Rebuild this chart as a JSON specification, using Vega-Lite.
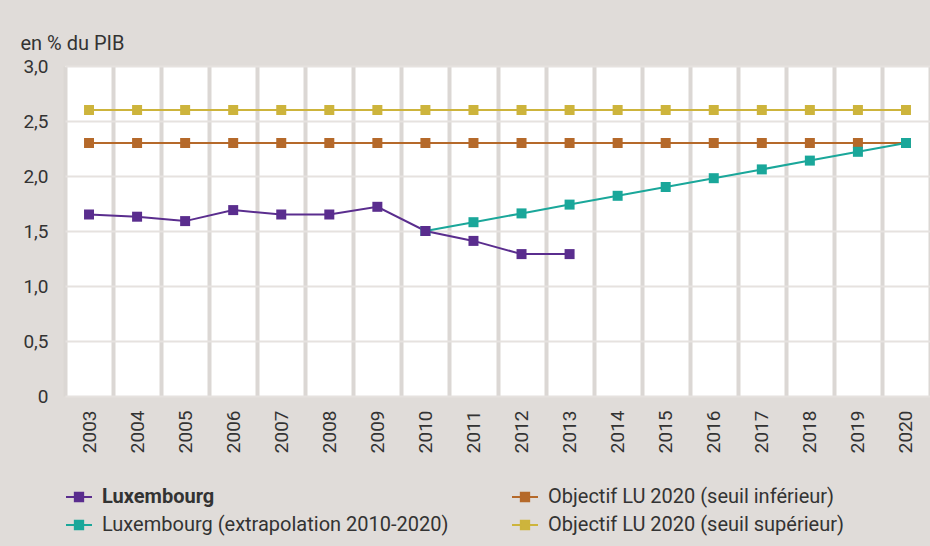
{
  "$schema": "https://vega.github.io/schema/vega-lite/v6.json",
  "width": 865,
  "height": 330,
  "autosize": {"type": "none"},
  "padding": {"left": 65, "top": 66, "right": 0, "bottom": 150},
  "background": "#e0dcd9",
  "config": {"view": {"fill": "#ffffff", "stroke": null}, "font": "Roboto"},
  "data": {
    "values": [
      {"year": "2003", "value": 2.6, "series": "Objectif LU 2020 (seuil supérieur)"},
      {"year": "2004", "value": 2.6, "series": "Objectif LU 2020 (seuil supérieur)"},
      {"year": "2005", "value": 2.6, "series": "Objectif LU 2020 (seuil supérieur)"},
      {"year": "2006", "value": 2.6, "series": "Objectif LU 2020 (seuil supérieur)"},
      {"year": "2007", "value": 2.6, "series": "Objectif LU 2020 (seuil supérieur)"},
      {"year": "2008", "value": 2.6, "series": "Objectif LU 2020 (seuil supérieur)"},
      {"year": "2009", "value": 2.6, "series": "Objectif LU 2020 (seuil supérieur)"},
      {"year": "2010", "value": 2.6, "series": "Objectif LU 2020 (seuil supérieur)"},
      {"year": "2011", "value": 2.6, "series": "Objectif LU 2020 (seuil supérieur)"},
      {"year": "2012", "value": 2.6, "series": "Objectif LU 2020 (seuil supérieur)"},
      {"year": "2013", "value": 2.6, "series": "Objectif LU 2020 (seuil supérieur)"},
      {"year": "2014", "value": 2.6, "series": "Objectif LU 2020 (seuil supérieur)"},
      {"year": "2015", "value": 2.6, "series": "Objectif LU 2020 (seuil supérieur)"},
      {"year": "2016", "value": 2.6, "series": "Objectif LU 2020 (seuil supérieur)"},
      {"year": "2017", "value": 2.6, "series": "Objectif LU 2020 (seuil supérieur)"},
      {"year": "2018", "value": 2.6, "series": "Objectif LU 2020 (seuil supérieur)"},
      {"year": "2019", "value": 2.6, "series": "Objectif LU 2020 (seuil supérieur)"},
      {"year": "2020", "value": 2.6, "series": "Objectif LU 2020 (seuil supérieur)"},
      {"year": "2003", "value": 2.3, "series": "Objectif LU 2020 (seuil inférieur)"},
      {"year": "2004", "value": 2.3, "series": "Objectif LU 2020 (seuil inférieur)"},
      {"year": "2005", "value": 2.3, "series": "Objectif LU 2020 (seuil inférieur)"},
      {"year": "2006", "value": 2.3, "series": "Objectif LU 2020 (seuil inférieur)"},
      {"year": "2007", "value": 2.3, "series": "Objectif LU 2020 (seuil inférieur)"},
      {"year": "2008", "value": 2.3, "series": "Objectif LU 2020 (seuil inférieur)"},
      {"year": "2009", "value": 2.3, "series": "Objectif LU 2020 (seuil inférieur)"},
      {"year": "2010", "value": 2.3, "series": "Objectif LU 2020 (seuil inférieur)"},
      {"year": "2011", "value": 2.3, "series": "Objectif LU 2020 (seuil inférieur)"},
      {"year": "2012", "value": 2.3, "series": "Objectif LU 2020 (seuil inférieur)"},
      {"year": "2013", "value": 2.3, "series": "Objectif LU 2020 (seuil inférieur)"},
      {"year": "2014", "value": 2.3, "series": "Objectif LU 2020 (seuil inférieur)"},
      {"year": "2015", "value": 2.3, "series": "Objectif LU 2020 (seuil inférieur)"},
      {"year": "2016", "value": 2.3, "series": "Objectif LU 2020 (seuil inférieur)"},
      {"year": "2017", "value": 2.3, "series": "Objectif LU 2020 (seuil inférieur)"},
      {"year": "2018", "value": 2.3, "series": "Objectif LU 2020 (seuil inférieur)"},
      {"year": "2019", "value": 2.3, "series": "Objectif LU 2020 (seuil inférieur)"},
      {"year": "2020", "value": 2.3, "series": "Objectif LU 2020 (seuil inférieur)"},
      {"year": "2010", "value": 1.5, "series": "Luxembourg (extrapolation 2010-2020)"},
      {"year": "2011", "value": 1.58, "series": "Luxembourg (extrapolation 2010-2020)"},
      {"year": "2012", "value": 1.66, "series": "Luxembourg (extrapolation 2010-2020)"},
      {"year": "2013", "value": 1.74, "series": "Luxembourg (extrapolation 2010-2020)"},
      {"year": "2014", "value": 1.82, "series": "Luxembourg (extrapolation 2010-2020)"},
      {"year": "2015", "value": 1.9, "series": "Luxembourg (extrapolation 2010-2020)"},
      {"year": "2016", "value": 1.98, "series": "Luxembourg (extrapolation 2010-2020)"},
      {"year": "2017", "value": 2.06, "series": "Luxembourg (extrapolation 2010-2020)"},
      {"year": "2018", "value": 2.14, "series": "Luxembourg (extrapolation 2010-2020)"},
      {"year": "2019", "value": 2.22, "series": "Luxembourg (extrapolation 2010-2020)"},
      {"year": "2020", "value": 2.3, "series": "Luxembourg (extrapolation 2010-2020)"},
      {"year": "2003", "value": 1.65, "series": "Luxembourg"},
      {"year": "2004", "value": 1.63, "series": "Luxembourg"},
      {"year": "2005", "value": 1.59, "series": "Luxembourg"},
      {"year": "2006", "value": 1.69, "series": "Luxembourg"},
      {"year": "2007", "value": 1.65, "series": "Luxembourg"},
      {"year": "2008", "value": 1.65, "series": "Luxembourg"},
      {"year": "2009", "value": 1.72, "series": "Luxembourg"},
      {"year": "2010", "value": 1.5, "series": "Luxembourg"},
      {"year": "2011", "value": 1.41, "series": "Luxembourg"},
      {"year": "2012", "value": 1.29, "series": "Luxembourg"},
      {"year": "2013", "value": 1.29, "series": "Luxembourg"}
    ]
  },
  "mark": {
    "type": "line",
    "strokeWidth": 2,
    "point": {"shape": "square", "size": 100, "filled": true, "opacity": 1}
  },
  "encoding": {
    "x": {
      "field": "year",
      "type": "ordinal",
      "bandPosition": 0.5,
      "scale": {"type": "band", "paddingInner": 0, "paddingOuter": 0},
      "axis": {
        "title": null,
        "labelAngle": -90,
        "labelAlign": "right",
        "labelBaseline": "middle",
        "labelPadding": 14,
        "labelFontSize": 19,
        "labelColor": "#333333",
        "ticks": false,
        "domain": false,
        "grid": true,
        "tickBand": "extent",
        "gridColor": "#dbd7d4",
        "gridWidth": 4
      }
    },
    "y": {
      "field": "value",
      "type": "quantitative",
      "scale": {"domain": [0, 3], "nice": false},
      "axis": {
        "values": [0, 0.5, 1, 1.5, 2, 2.5, 3],
        "labelExpr": "datum.value == 0 ? '0' : replace(format(datum.value, '.1f'), '.', ',')",
        "title": "en % du PIB",
        "titleAngle": 0,
        "titleAlign": "left",
        "titleBaseline": "alphabetic",
        "titleX": -45,
        "titleY": -17,
        "titleFontWeight": "normal",
        "titleFontSize": 20,
        "titleColor": "#333333",
        "labelFontSize": 19,
        "labelColor": "#333333",
        "labelPadding": 17,
        "domain": false,
        "ticks": false,
        "gridColor": "#e6e2df",
        "gridWidth": 2
      }
    },
    "color": {
      "field": "series",
      "type": "nominal",
      "scale": {
        "domain": [
          "Luxembourg",
          "Luxembourg (extrapolation 2010-2020)",
          "Objectif LU 2020 (seuil inférieur)",
          "Objectif LU 2020 (seuil supérieur)"
        ],
        "range": ["#5a2d8e", "#1aa79a", "#b5692a", "#cdb43c"]
      },
      "legend": {
        "title": null,
        "orient": "none",
        "legendX": 0,
        "legendY": 417,
        "columns": 2,
        "columnPadding": 59,
        "rowPadding": 4,
        "padding": 0,
        "labelFontSize": 20,
        "labelColor": "#333333",
        "labelOffset": 9,
        "labelLimit": 500,
        "symbolType": "M-1,0H1M-0.32,-0.32H0.32V0.32H-0.32Z",
        "symbolSize": 676,
        "symbolStrokeWidth": 2,
        "encode": {
          "labels": {"update": {"fontWeight": {"signal": "datum.label == 'Luxembourg' ? 'bold' : 'normal'"}}},
          "symbols": {"update": {"fill": {"signal": "scale('color', datum.value)"}, "stroke": {"signal": "scale('color', datum.value)"}, "opacity": {"value": 1}}}
        }
      }
    }
  }
}
